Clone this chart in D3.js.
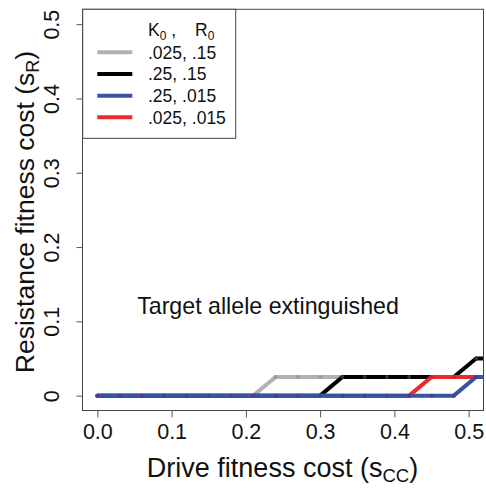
<!DOCTYPE html>
<html>
<head>
<meta charset="utf-8">
<script src="https://cdn.jsdelivr.net/npm/d3@7"></script>
<style>
  html, body { margin: 0; padding: 0; background: #fff; }
  svg { display: block; font-family: "Liberation Sans", Arial, Helvetica, sans-serif; }
</style>
</head>
<body>
<svg id="chart" width="486" height="488"></svg>
<script>
// ---- data ----
const sCC = [0, 0.03, 0.06, 0.09, 0.12, 0.15, 0.18, 0.21, 0.24, 0.27, 0.30, 0.33, 0.36, 0.39, 0.42, 0.45, 0.48, 0.51, 0.54];
const seriesGray  = [0,0,0,0,0,0,0,0, 0.025,0.025,0.025,0.025,0.025,0.025,0.025,0.025,0.025,0.025,0.025];
const seriesBlack = [0,0,0,0,0,0,0,0,0,0,0, 0.025,0.025,0.025,0.025,0.025,0.025,0.05,0.05];
const seriesRed   = [0,0,0,0,0,0,0,0,0,0,0,0,0,0,0, 0.025,0.025,0.025,0.025];
const seriesBlue  = [0,0,0,0,0,0,0,0,0,0,0,0,0,0,0,0,0, 0.025,0.025];
const legendLabels = [".025, .15", ".25, .15", ".25, .015", ".025, .015"];
const xTicks = [0, 0.1, 0.2, 0.3, 0.4, 0.5];
const yTicks = [0, 0.1, 0.2, 0.3, 0.4, 0.5];
const xTickLabels = ["0.0", "0.1", "0.2", "0.3", "0.4", "0.5"];
const yTickLabels = ["0", "0.1", "0.2", "0.3", "0.4", "0.5"];

const series = [
  { name: legendLabels[0], values: seriesGray,  color: "#b2b2b2", dot: "#9a9a9a" },
  { name: legendLabels[1], values: seriesBlack, color: "#000000", dot: "#333333" },
  { name: legendLabels[2], values: seriesBlue,  color: "#3953a4", dot: "#4a3f8c" },
  { name: legendLabels[3], values: seriesRed,   color: "#ec2a2a", dot: "#c4262e" }
];
// drawing order: gray, black, red, blue (blue on top)
const drawOrder = [0, 1, 3, 2];

const svg = d3.select("#chart");
const L = 82.5, R = 483.5, T = 9.3, B = 410.5;
const x = d3.scaleLinear().domain([-0.02, 0.52]).range([L, R]);
const y = d3.scaleLinear().domain([-0.02, 0.52]).range([B, T]);

svg.append("defs").append("clipPath").attr("id", "plotclip")
  .append("rect").attr("x", L).attr("y", T).attr("width", R - L).attr("height", B - T);

const plot = svg.append("g").attr("clip-path", "url(#plotclip)");

// lines
const line = d3.line().x((d, i) => x(sCC[i])).y(d => y(d));
drawOrder.forEach(k => {
  const s = series[k];
  plot.append("path")
    .datum(s.values)
    .attr("d", line)
    .attr("fill", "none")
    .attr("stroke", s.color)
    .attr("stroke-width", 4)
    .attr("stroke-linejoin", "miter");
  plot.append("g").selectAll("circle")
    .data(s.values)
    .join("circle")
    .attr("cx", (d, i) => x(sCC[i]))
    .attr("cy", d => y(d))
    .attr("r", 2)
    .attr("fill", s.dot);
});

// box
svg.append("rect")
  .attr("x", L).attr("y", T)
  .attr("width", R - L).attr("height", B - T)
  .attr("fill", "none").attr("stroke", "#444").attr("stroke-width", 1);

// x axis
const xAxis = d3.axisBottom(x).tickValues(xTicks).tickSize(7).tickPadding(4)
  .tickFormat((d, i) => xTickLabels[i]);
const gx = svg.append("g").attr("transform", `translate(0,${B})`).call(xAxis);
gx.select(".domain").remove();
gx.selectAll(".tick line").attr("stroke", "#555");
gx.selectAll(".tick text")
  .attr("font-size", 21.5).attr("fill", "#111")
  .attr("font-family", "Liberation Sans, Arial, sans-serif")
  .attr("dy", null).attr("y", 28);

// y axis (rotated labels, as in R)
const yAxis = d3.axisLeft(y).tickValues(yTicks).tickSize(6)
  .tickFormat((d, i) => yTickLabels[i]);
const gy = svg.append("g").attr("transform", `translate(${L},0)`).call(yAxis);
gy.select(".domain").remove();
gy.selectAll(".tick line").attr("stroke", "#555");
gy.selectAll(".tick text")
  .attr("font-size", 21.5).attr("fill", "#111")
  .attr("font-family", "Liberation Sans, Arial, sans-serif")
  .attr("x", null).attr("dy", null)
  .attr("text-anchor", "middle")
  .attr("transform", "translate(-24,0) rotate(-90)");

// axis titles
const xt = svg.append("text")
  .attr("x", 282.5).attr("y", 477)
  .attr("text-anchor", "middle").attr("font-size", 27).attr("fill", "#111");
xt.append("tspan").text("Drive fitness cost (s");
xt.append("tspan").text("CC").attr("font-size", 18.5).attr("dy", 5);
xt.append("tspan").text(")").attr("dy", -5);

const yt = svg.append("text")
  .attr("transform", `translate(34,${212}) rotate(-90)`)
  .attr("text-anchor", "middle").attr("font-size", 26.5).attr("fill", "#111");
yt.append("tspan").text("Resistance fitness cost (s");
yt.append("tspan").text("R").attr("font-size", 18).attr("dy", 5);
yt.append("tspan").text(")").attr("dy", -5);

// inner annotation
svg.append("text")
  .attr("x", 268).attr("y", 314)
  .attr("text-anchor", "middle").attr("font-size", 23.2).attr("fill", "#111")
  .text("Target allele extinguished");

// legend
const lg = svg.append("g");
lg.append("rect")
  .attr("x", 82.7).attr("y", T).attr("width", 153).attr("height", 129)
  .attr("fill", "#fff").attr("stroke", "#444").attr("stroke-width", 1);
const hdr = lg.append("text").attr("y", 36).attr("font-size", 17.5).attr("fill", "#111");
hdr.append("tspan").attr("x", 148).text("K");
hdr.append("tspan").text("0").attr("font-size", 12).attr("dy", 4);
hdr.append("tspan").text(" ,").attr("dy", -4);
hdr.append("tspan").attr("x", 195).text("R");
hdr.append("tspan").text("0").attr("font-size", 12).attr("dy", 4);

const ly = d3.scaleLinear().domain([0, 3]).range([52.3, 117.3]);
series.forEach((s, i) => {
  lg.append("line")
    .attr("x1", 97.3).attr("x2", 132.3)
    .attr("y1", ly(i)).attr("y2", ly(i))
    .attr("stroke", s.color).attr("stroke-width", 4);
  lg.append("text")
    .attr("x", 148).attr("y", ly(i) + 6.2)
    .attr("font-size", 17.5).attr("fill", "#111")
    .text(s.name);
});
</script>
</body>
</html>
